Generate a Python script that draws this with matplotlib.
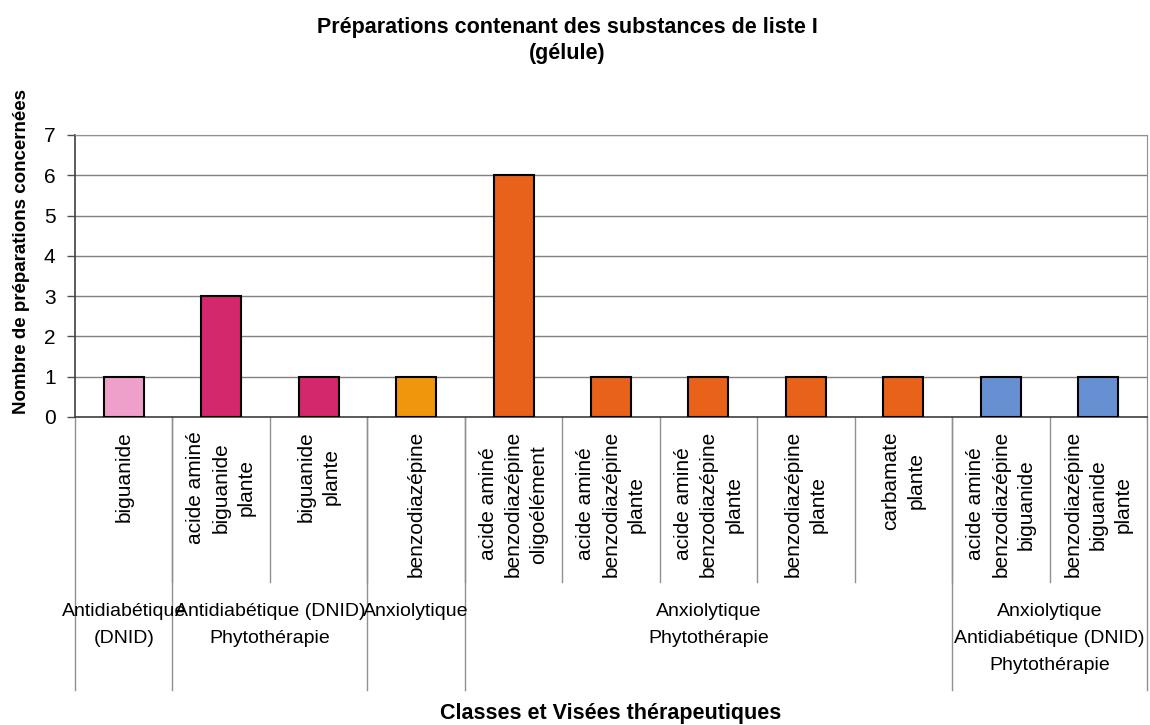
import matplotlib
matplotlib.use('Agg')
import matplotlib.pyplot as plt
import matplotlib.transforms as mtransforms

plt.rcParams['font.family'] = ['Liberation Sans', 'DejaVu Sans']

# data
categories = ['biguanide',
              'acide aminé\nbiguanide\nplante',
              'biguanide\nplante',
              'benzodiazépine',
              'acide aminé\nbenzodiazépine\noligoélément',
              'acide aminé\nbenzodiazépine\nplante',
              'acide aminé\nbenzodiazépine\nplante',
              'benzodiazépine\nplante',
              'carbamate\nplante',
              'acide aminé\nbenzodiazépine\nbiguanide',
              'benzodiazépine\nbiguanide\nplante']
values = [1, 3, 1, 1, 6, 1, 1, 1, 1, 1, 1]
colors = ['#EFA0CA', '#D4286C', '#D4286C', '#F0960C',
          '#E8621A', '#E8621A', '#E8621A', '#E8621A', '#E8621A',
          '#6790D2', '#6790D2']
groups = ['Antidiabétique\n(DNID)',
          'Antidiabétique (DNID)\nPhytothérapie',
          'Anxiolytique',
          'Anxiolytique\nPhytothérapie',
          'Anxiolytique\nAntidiabétique (DNID)\nPhytothérapie']
group_sizes = [1, 2, 1, 5, 2]

W, H = 1150, 725
fig = plt.figure(figsize=(W/100, H/100), dpi=100)
ax = fig.add_axes([75/W, 1-417/H, 1072/W, 282/H])

x = list(range(len(values)))
ax.bar(x, values, width=0.41, color=colors, edgecolor='black', linewidth=1.5, zorder=3)
ax.set_xlim(-0.5, len(values)-0.5)
ax.set_ylim(0, 7)
ax.set_yticks(range(8))
ax.tick_params(axis='y', labelsize=15, length=6, width=1, pad=8, color='#505050')
ax.set_xticks([])
ax.grid(axis='y', color='#808080', linewidth=1, zorder=0)
for s in ['top', 'right']:
    ax.spines[s].set_color('#909090')
ax.spines['left'].set_color('#404040')
ax.spines['bottom'].set_color('#404040')
ax.spines['left'].set_linewidth(1.2)
ax.spines['bottom'].set_linewidth(1.2)

trans = mtransforms.blended_transform_factory(ax.transData, ax.transAxes)
inner = -(582-417)/282
outer = -(690-417)/282

# category labels and separators
for i, lab in enumerate(categories):
    ax.text(i, -(431-417)/282, lab, transform=trans, rotation=90, ha='center', va='top',
            multialignment='center', fontsize=15, linespacing=1.42)
bounds = [-0.5]
for n in group_sizes:
    bounds.append(bounds[-1] + n)
for b in [i + 0.5 for i in range(len(values)-1)]:
    ax.plot([b, b], [0, inner], transform=trans, color='#909090', lw=1, clip_on=False)
for b in bounds:
    ax.plot([b, b], [0, outer], transform=trans, color='#909090', lw=1, clip_on=False)

# group labels
for g, lab in enumerate(groups):
    cx = (bounds[g] + bounds[g+1]) / 2
    ax.text(cx, -(603-417)/282, lab, transform=trans, ha='center', va='top',
            multialignment='center', fontsize=14, linespacing=1.78)

fig.text(567/W, 1-28/H, 'Préparations contenant des substances de liste I',
         ha='center', va='center', fontsize=15.5, fontweight='bold')
fig.text(567/W, 1-53/H, '(gélule)', ha='center', va='center', fontsize=15.5, fontweight='bold')
fig.text(22/W, 1-251/H, 'Nombre de préparations concernées', rotation=90,
         ha='center', va='center', fontsize=13.5, fontweight='bold')
fig.text(611/W, 1-713/H, 'Classes et Visées thérapeutiques',
         ha='center', va='center', fontsize=15.5, fontweight='bold')

fig.savefig('out.png', dpi=100)
